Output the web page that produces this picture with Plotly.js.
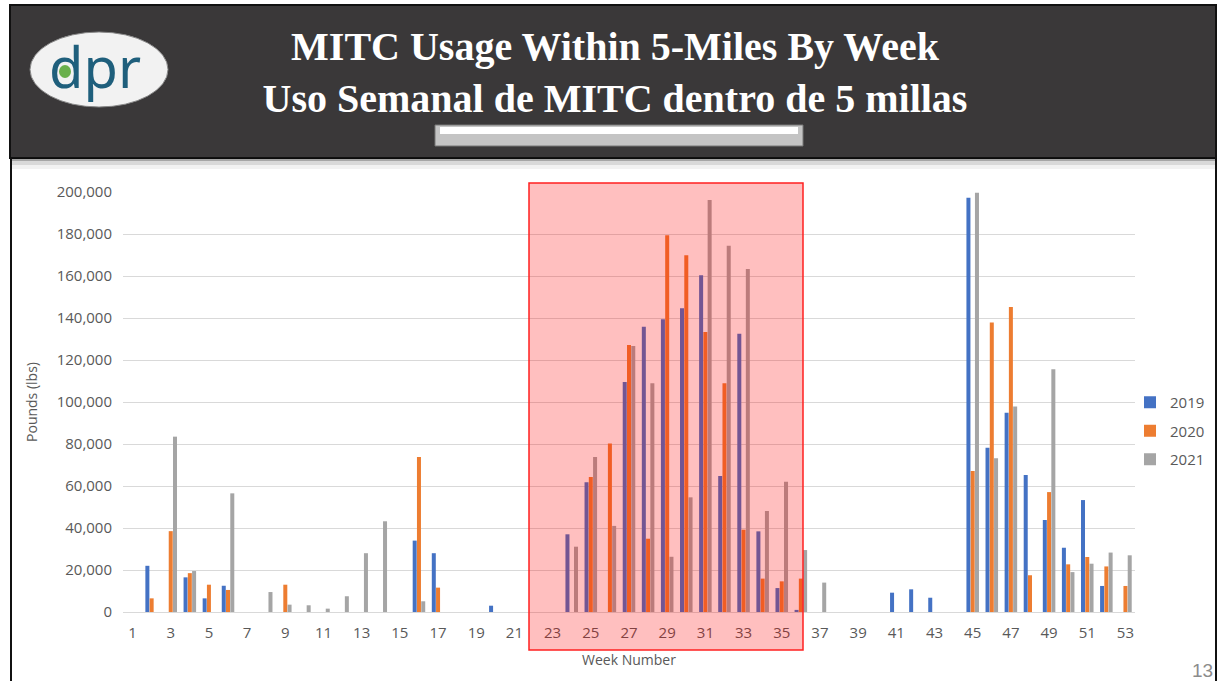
<!DOCTYPE html>
<html>
<head>
<meta charset="utf-8">
<script src="https://cdn.plot.ly/plotly-3.0.1.min.js"></script>
<style>html,body{margin:0;padding:0;background:#fff;}#chart{width:1220px;height:681px;}</style>
</head>
<body>
<div id="chart"></div>
<script>
const weeks = [1,2,3,4,5,6,7,8,9,10,11,12,13,14,15,16,17,18,19,20,21,22,23,24,25,26,27,28,29,30,31,32,33,34,35,36,37,38,39,40,41,42,43,44,45,46,47,48,49,50,51,52,53];
const tickWeeks = [1,3,5,7,9,11,13,15,17,19,21,23,25,27,29,31,33,35,37,39,41,43,45,47,49,51,53];
const yTicks = [0,20000,40000,60000,80000,100000,120000,140000,160000,180000,200000];
const seriesNames = ["2019","2020","2021"];
const lbs2019 = [0,22000,0,16500,6500,12500,0,0,0,0,0,0,0,0,0,34000,28000,0,0,3000,0,0,0,37000,61800,0,109500,135800,139400,144600,160300,64800,132500,38400,11400,1000,0,0,0,0,9200,10800,6800,0,197300,78200,94900,65200,43800,30600,53300,12400,0];
const lbs2020 = [0,6500,38500,18500,13000,10500,0,0,13000,0,0,0,0,0,0,73800,11600,0,0,0,0,0,0,0,64300,80200,127100,34900,179400,169900,133300,108900,39200,15900,14600,15900,0,0,0,0,0,0,0,0,67100,137800,145200,17500,57100,22700,26200,21700,12400];
const lbs2021 = [0,0,83500,19500,0,56500,0,9500,3500,3200,1600,7500,28000,43200,0,5100,0,0,0,0,0,0,0,31100,73800,41000,126700,108900,26300,54600,196200,174400,163300,48100,62000,29500,14000,0,0,0,0,0,0,0,199700,73200,97800,0,115600,19000,23000,28300,27000];
const colors = ["#4472C4","#ED7D31","#A5A5A5"];

// pixel -> paper helpers (plot area 123..1135 x 192..612)
const L=123, R=1135, T=192, B=612;
const px = x => (x-L)/(R-L);
const py = y => (B-y)/(B-T);

const traces = [lbs2019,lbs2020,lbs2021].map((vals,i)=>({
  type:'bar', x:weeks, y:vals, name:seriesNames[i], legendgroup:'g'+i,
  marker:{color:colors[i]}, hoverinfo:'x+y+name'
}));

const shapes = [
  // header
  {type:'rect',xref:'paper',yref:'paper',x0:px(10),x1:px(1216),y0:py(5),y1:py(158),fillcolor:'#3a3839',line:{color:'#111',width:2},layer:'below'},
  // header shadow
  {type:'rect',xref:'paper',yref:'paper',x0:px(12),x1:px(1215),y0:py(158),y1:py(161),fillcolor:'rgba(0,0,0,0.35)',line:{width:0},layer:'below'},
  {type:'rect',xref:'paper',yref:'paper',x0:px(12),x1:px(1215),y0:py(161),y1:py(165),fillcolor:'rgba(0,0,0,0.15)',line:{width:0},layer:'below'},
  {type:'rect',xref:'paper',yref:'paper',x0:px(12),x1:px(1215),y0:py(165),y1:py(169),fillcolor:'rgba(0,0,0,0.05)',line:{width:0},layer:'below'},
  // side borders
  {type:'line',xref:'paper',yref:'paper',x0:px(11),x1:px(11),y0:py(158),y1:py(681),line:{color:'#111',width:2}},
  {type:'line',xref:'paper',yref:'paper',x0:px(1216),x1:px(1216),y0:py(158),y1:py(681),line:{color:'#111',width:2}},
  // logo ellipse
  {type:'circle',xref:'paper',yref:'paper',x0:px(30),x1:px(168),y0:py(32),y1:py(107),fillcolor:'#f2f2f2',line:{color:'#888',width:1}},
  // silver bar
  {type:'rect',xref:'paper',yref:'paper',x0:px(435),x1:px(803),y0:py(125),y1:py(146),fillcolor:'#c4c4c4',line:{color:'#777',width:1}},
  {type:'rect',xref:'paper',yref:'paper',x0:px(440),x1:px(798),y0:py(127),y1:py(134),fillcolor:'#ffffff',line:{width:0}},
  // highlight box
  {type:'rect',xref:'paper',yref:'paper',x0:px(529),x1:px(803),y0:py(183),y1:py(650),fillcolor:'rgba(255,0,0,0.25)',line:{color:'#ff2020',width:1.5},layer:'above'}
];

const annotations = [
  {xref:'paper',yref:'paper',x:px(95),y:py(66),text:'dpr',showarrow:false,font:{family:'Noto Sans, sans-serif',size:56,color:'#1f5f7c'},xanchor:'center',yanchor:'middle'},
  {xref:'paper',yref:'paper',x:px(1215),y:py(670),text:'13',showarrow:false,font:{family:'Liberation Sans, sans-serif',size:19,color:'#8c8c8c'},xanchor:'right',yanchor:'middle'}
];

const layout = {
  width:1220, height:681,
  margin:{l:L, r:1220-R, t:T, b:681-B, autoexpand:false},
  paper_bgcolor:'#ffffff', plot_bgcolor:'#ffffff',
  title:{text:'MITC Usage Within 5-Miles By Week<br>Uso Semanal de MITC dentro de 5 millas',
    x:615/1220, xanchor:'center', xref:'container', y:1-60/681, yanchor:'middle', yref:'container',
    font:{family:'Liberation Serif, serif',size:40,color:'#ffffff',weight:'bold'}},
  barmode:'group', bargap:0.33, bargroupgap:0.06,
  xaxis:{range:[0.5,53.5], tickvals:tickWeeks, ticktext:tickWeeks.map(String), showgrid:false, zeroline:false,
    showline:false, ticks:'', tickfont:{family:'Open Sans, sans-serif',size:15,color:'#595959'}, ticklabelstandoff:10,
    title:{text:'Week Number',font:{family:'Open Sans, sans-serif',size:14,color:'#595959'},standoff:14}},
  yaxis:{range:[0,200000], tickvals:yTicks, tickformat:',d', showgrid:true, gridcolor:'#d9d9d9', gridwidth:1,
    zeroline:true, zerolinecolor:'#d9d9d9', showline:false, ticks:'',
    tickfont:{family:'Open Sans, sans-serif',size:15,color:'#595959'}, ticklabelstandoff:10,
    title:{text:'Pounds (lbs)',font:{family:'Open Sans, sans-serif',size:14,color:'#595959'},standoff:15}},
  legend:{x:px(1130), y:py(386), xanchor:'left', yanchor:'top', font:{family:'Open Sans, sans-serif',size:15,color:'#595959'},
    itemwidth:30, tracegroupgap:6, bgcolor:'rgba(0,0,0,0)'},
  shapes:shapes, annotations:annotations, showlegend:true
};

Plotly.newPlot('chart', traces, layout, {displayModeBar:false, staticPlot:true}).then(()=>{
  // green leaf in the logo's "d" bowl
  Plotly.relayout('chart', {'shapes[10]':{type:'circle',xref:'paper',yref:'paper',x0:px(59),x1:px(71),y0:py(65),y1:py(78),fillcolor:'#6ab04c',line:{width:0},layer:'above'}});
});
</script>
</body>
</html>
